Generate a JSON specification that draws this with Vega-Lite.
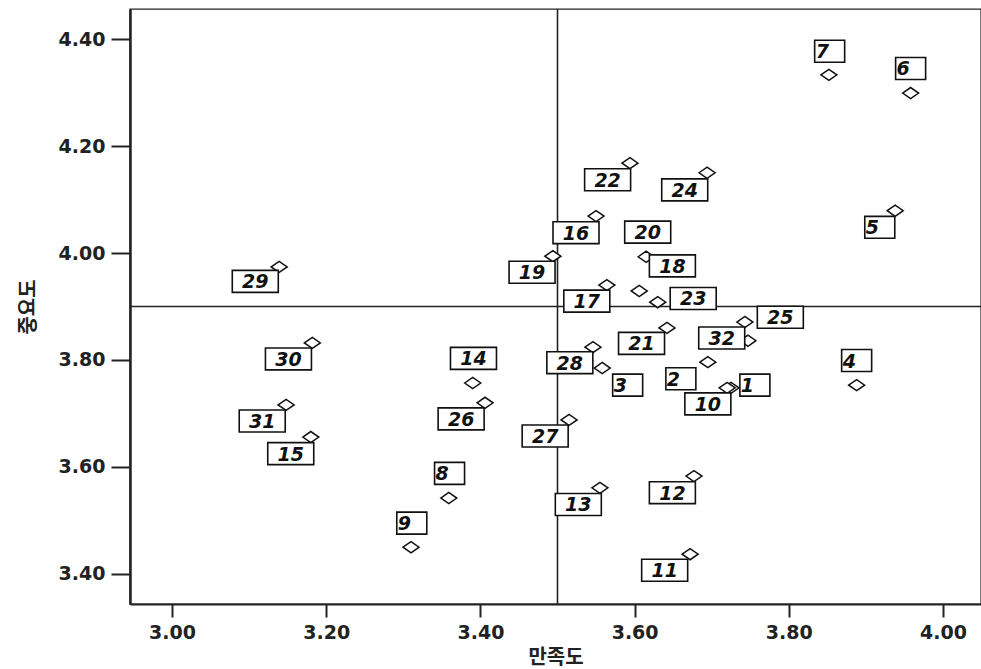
{
  "$schema": "https://vega.github.io/schema/vega-lite/v6.json",
  "width": 851,
  "height": 595,
  "autosize": {"type": "none"},
  "padding": {"left": 130, "top": 9, "right": 0, "bottom": 65},
  "background": "white",
  "config": {
    "view": {"stroke": "#222", "strokeWidth": 1.4},
    "axis": {
      "grid": false,
      "domainColor": "#222",
      "domainWidth": 2,
      "tickColor": "#222",
      "tickWidth": 2,
      "labelFont": "DejaVu Sans",
      "labelFontWeight": "bold",
      "labelFontSize": 19,
      "labelColor": "#222",
      "labelFlush": false,
      "labelOverlap": false,
      "titleFont": "Noto Sans CJK KR",
      "titleFontSize": 20,
      "titleFontWeight": "bold",
      "titleColor": "#222"
    }
  },
  "datasets": {
    "pts": [
      {"id": "1", "x": 3.725, "y": 3.748, "lx": 3.756, "ly": 3.753},
      {"id": "2", "x": 3.695, "y": 3.796, "lx": 3.660, "ly": 3.765},
      {"id": "3", "x": 3.558, "y": 3.785, "lx": 3.591, "ly": 3.753},
      {"id": "4", "x": 3.888, "y": 3.753, "lx": 3.888, "ly": 3.799},
      {"id": "5", "x": 3.938, "y": 4.079, "lx": 3.918, "ly": 4.048},
      {"id": "6", "x": 3.958, "y": 4.299, "lx": 3.958, "ly": 4.345},
      {"id": "7", "x": 3.852, "y": 4.333, "lx": 3.853, "ly": 4.377},
      {"id": "8", "x": 3.359, "y": 3.542, "lx": 3.360, "ly": 3.588},
      {"id": "9", "x": 3.310, "y": 3.450, "lx": 3.311, "ly": 3.495},
      {"id": "10", "x": 3.720, "y": 3.748, "lx": 3.695, "ly": 3.718},
      {"id": "11", "x": 3.672, "y": 3.437, "lx": 3.639, "ly": 3.407},
      {"id": "12", "x": 3.677, "y": 3.583, "lx": 3.649, "ly": 3.552},
      {"id": "13", "x": 3.555, "y": 3.561, "lx": 3.527, "ly": 3.530},
      {"id": "14", "x": 3.390, "y": 3.757, "lx": 3.391, "ly": 3.803},
      {"id": "15", "x": 3.180, "y": 3.656, "lx": 3.154, "ly": 3.625},
      {"id": "16", "x": 3.550, "y": 4.069, "lx": 3.524, "ly": 4.038},
      {"id": "17", "x": 3.564, "y": 3.940, "lx": 3.538, "ly": 3.910},
      {"id": "18", "x": 3.615, "y": 3.993, "lx": 3.649, "ly": 3.976},
      {"id": "19", "x": 3.494, "y": 3.994, "lx": 3.467, "ly": 3.964},
      {"id": "20", "x": 3.606, "y": 3.929, "lx": 3.617, "ly": 4.039},
      {"id": "21", "x": 3.642, "y": 3.860, "lx": 3.609, "ly": 3.831},
      {"id": "22", "x": 3.594, "y": 4.168, "lx": 3.565, "ly": 4.137},
      {"id": "23", "x": 3.630, "y": 3.908, "lx": 3.676, "ly": 3.915},
      {"id": "24", "x": 3.694, "y": 4.150, "lx": 3.665, "ly": 4.118},
      {"id": "25", "x": 3.743, "y": 3.871, "lx": 3.789, "ly": 3.880},
      {"id": "26", "x": 3.406, "y": 3.720, "lx": 3.375, "ly": 3.690},
      {"id": "27", "x": 3.515, "y": 3.688, "lx": 3.484, "ly": 3.658},
      {"id": "28", "x": 3.546, "y": 3.824, "lx": 3.516, "ly": 3.795},
      {"id": "29", "x": 3.139, "y": 3.974, "lx": 3.108, "ly": 3.947},
      {"id": "30", "x": 3.182, "y": 3.832, "lx": 3.151, "ly": 3.802},
      {"id": "31", "x": 3.148, "y": 3.716, "lx": 3.117, "ly": 3.686},
      {"id": "32", "x": 3.747, "y": 3.836, "lx": 3.713, "ly": 3.841}
    ]
  },
  "layer": [
    {
      "data": {"values": [{"x": 3.5}]},
      "mark": {"type": "rule", "color": "#222", "strokeWidth": 1.6},
      "encoding": {
        "x": {"field": "x", "type": "quantitative",
          "scale": {"domain": [2.9455, 4.0493], "nice": false, "zero": false}}
      }
    },
    {
      "data": {"values": [{"y": 3.9}]},
      "mark": {"type": "rule", "color": "#222", "strokeWidth": 1.6},
      "encoding": {
        "y": {"field": "y", "type": "quantitative",
          "scale": {"domain": [3.3439, 4.4561], "nice": false, "zero": false}}
      }
    },
    {
      "data": {"name": "pts"},
      "mark": {"type": "point", "shape": "M-1,0L0,-0.69L1,0L0,0.69Z", "size": 256, "filled": false, "fill": "white", "fillOpacity": 1, "stroke": "#111", "strokeWidth": 1.5, "opacity": 1},
      "encoding": {
        "x": {"field": "x", "type": "quantitative",
          "axis": {"title": "만족도", "values": [3.0, 3.2, 3.4, 3.6, 3.8, 4.0], "format": ".2f", "tickSize": 13, "labelPadding": 6, "titlePadding": 5}},
        "y": {"field": "y", "type": "quantitative",
          "axis": {"title": "중요도", "values": [3.4, 3.6, 3.8, 4.0, 4.2, 4.4], "format": ".2f", "tickSize": 19, "labelPadding": 6, "titlePadding": 20, "domainWidth": 2.5}}
      }
    },
    {
      "data": {"name": "pts"},
      "transform": [{"filter": "length(datum.id) == 2"}],
      "mark": {"type": "point", "shape": "M-1,-0.478H1V0.478H-1Z", "size": 2116, "filled": false, "fill": "white", "fillOpacity": 1, "stroke": "#111", "strokeWidth": 1.6, "opacity": 1},
      "encoding": {
        "x": {"field": "lx", "type": "quantitative"},
        "y": {"field": "ly", "type": "quantitative"}
      }
    },
    {
      "data": {"name": "pts"},
      "transform": [{"filter": "length(datum.id) == 1"}],
      "mark": {"type": "point", "shape": "M-1,-0.733H1V0.733H-1Z", "size": 900, "filled": false, "fill": "white", "fillOpacity": 1, "stroke": "#111", "strokeWidth": 1.6, "opacity": 1},
      "encoding": {
        "x": {"field": "lx", "type": "quantitative"},
        "y": {"field": "ly", "type": "quantitative"}
      }
    },
    {
      "data": {"name": "pts"},
      "transform": [{"filter": "length(datum.id) == 2"}],
      "mark": {"type": "text", "font": "DejaVu Sans", "fontStyle": "italic", "fontWeight": "bold", "fontSize": 19, "color": "#111", "align": "center", "baseline": "middle", "dy": 1},
      "encoding": {
        "x": {"field": "lx", "type": "quantitative"},
        "y": {"field": "ly", "type": "quantitative"},
        "text": {"field": "id"}
      }
    },
    {
      "data": {"name": "pts"},
      "transform": [{"filter": "length(datum.id) == 1"}],
      "mark": {"type": "text", "font": "DejaVu Sans", "fontStyle": "italic", "fontWeight": "bold", "fontSize": 19, "color": "#111", "align": "left", "baseline": "middle", "dx": -14, "dy": 1},
      "encoding": {
        "x": {"field": "lx", "type": "quantitative"},
        "y": {"field": "ly", "type": "quantitative"},
        "text": {"field": "id"}
      }
    }
  ]
}
